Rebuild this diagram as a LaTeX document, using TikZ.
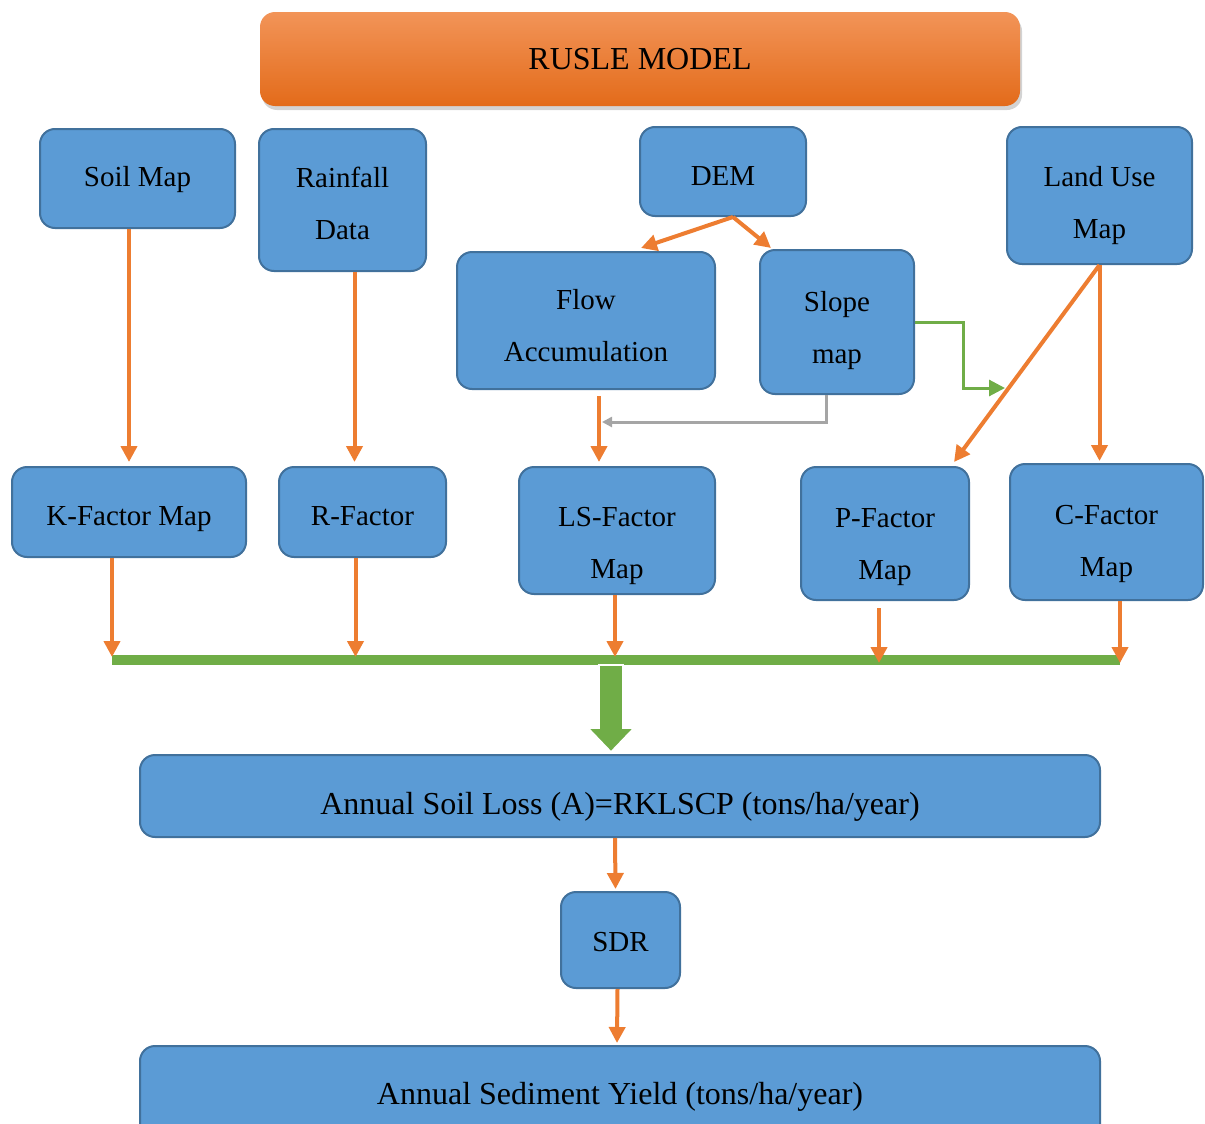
\documentclass[tikz,border=0pt]{standalone}
\usepackage{fontspec}
\setmainfont{Liberation Serif}
\usepackage{tikz}
\usetikzlibrary{positioning,arrows.meta,shadows}

\definecolor{boxblue}{HTML}{5B9BD5}
\definecolor{boxline}{HTML}{41719C}
\definecolor{arrorange}{HTML}{ED7D31}
\definecolor{titletop}{HTML}{F29458}
\definecolor{titlemid}{HTML}{F07D2B}
\definecolor{titlebottom}{HTML}{E36B1A}
\definecolor{bargreen}{HTML}{70AD47}
\definecolor{linegray}{HTML}{A5A5A5}

\begin{document}
\begin{tikzpicture}[x=0.5pt, y=-0.5pt,
	boxnode/.style={rectangle, rounded corners=7.5pt, draw=boxline, fill=boxblue, line width=1pt, align=center, inner sep=0pt, font=\fontsize{14.5}{26}\selectfont},
	widenode/.style={boxnode, minimum width=480pt, font=\fontsize{16}{20}\selectfont},
	titlenode/.style={rectangle, rounded corners=7.5pt, top color=titletop, middle color=titlemid, bottom color=titlebottom, drop shadow={opacity=0.35, shadow xshift=1pt, shadow yshift=-2pt}, minimum width=380pt, minimum height=47pt, font=\fontsize{16}{20}\selectfont},
	orangearrow/.style={draw=arrorange, line width=2pt, -{Triangle[length=8pt,width=8pt]}},
	greenarrow/.style={draw=bargreen, line width=1.5pt, -{Triangle[length=8pt,width=8pt]}},
	grayarrow/.style={draw=linegray, line width=1.5pt, -{Triangle[length=5pt,width=5pt]}},
	]
	\useasboundingbox (0,0) rectangle (1205,1124);
	
	%Nodes
	\node[titlenode] (title) at (640,59) {RUSLE MODEL};
	\node[boxnode, minimum width=97.5pt, minimum height=49.5pt, text height=10.9pt] (soilmap) at (137.5,178.5) {Soil Map};
	\node[boxnode, minimum width=83.5pt, minimum height=71pt, text height=39.2pt] (rainfall) at (342.5,200) {Rainfall\\Data};
	\node[boxnode, minimum width=83pt, minimum height=44.5pt, text height=13.6pt] (dem) at (723,171.5) {DEM};
	\node[boxnode, minimum width=129pt, minimum height=68.5pt, text height=41.2pt] (flowacc) at (586,320.5) {Flow\\Accumulation};
	\node[boxnode, minimum width=77pt, minimum height=72pt, text height=44.2pt] (slope) at (837,322) {Slope\\map};
	\node[boxnode, minimum width=92.5pt, minimum height=68.5pt, text height=46.2pt] (landuse) at (1099.5,195.5) {Land Use\\Map};
	\node[boxnode, minimum width=117pt, minimum height=45pt, text height=16.6pt] (kfactor) at (129,512) {K-Factor Map};
	\node[boxnode, minimum width=83.5pt, minimum height=45pt, text height=13.6pt] (rfactor) at (362.5,512) {R-Factor};
	\node[boxnode, minimum width=98pt, minimum height=63.5pt, text height=51.2pt] (lsfactor) at (617,530.5) {LS-Factor\\Map};
	\node[boxnode, minimum width=84pt, minimum height=66.5pt, text height=49.2pt] (pfactor) at (885,533.5) {P-Factor\\Map};
	\node[boxnode, minimum width=96.5pt, minimum height=68pt, text height=47.2pt] (cfactor) at (1106.5,532) {C-Factor\\Map};
	\node[widenode, minimum height=41pt, text height=22.1pt] (soilloss) at (620,796) {Annual Soil Loss (A)=RKLSCP (tons/ha/year)};
	\node[boxnode, minimum width=59.5pt, minimum height=48pt, text height=11.6pt] (sdr) at (620.5,940) {SDR};
	\node[widenode, minimum height=47pt, text height=15.1pt] (sedyield) at (620,1093) {Annual Sediment Yield (tons/ha/year)};
	
	%Bar
	\coordinate (busleft) at (112,660);
	\coordinate (busright) at (1120,660);
	\draw[bargreen, line width=5pt] (busleft) -- (busright);
	\filldraw[fill=bargreen, draw=white, line width=0.8pt] (599,665) -- (623,665) -- (623,728) -- (634,728) -- (611,752) -- (588,728) -- (599,728) -- cycle;
	
	%Lines
	\draw[orangearrow] (kfactor.north |- soilmap.south) -- ([yshift=2pt]kfactor.north);
	\draw[orangearrow] ([xshift=6pt]rainfall.south) -- ([xshift=-4pt,yshift=2pt]rfactor.north);
	\draw[orangearrow] ([xshift=5pt]dem.south) -- ([xshift=27.5pt,yshift=1.5pt]flowacc.north);
	\draw[orangearrow] ([xshift=5pt]dem.south) -- ([xshift=6pt,yshift=0.5pt]slope.north west);
	\draw[orangearrow] ([xshift=6.5pt,yshift=-3pt]flowacc.south) -- ([xshift=-9pt,yshift=2pt]lsfactor.north);
	\coordinate (lsin) at (602,422);
	\draw[grayarrow] ([xshift=-5.5pt]slope.south) |- (lsin);
	\draw[greenarrow] (slope.east) -- ++(48,0) |- (1005,388);
	\draw[orangearrow] (landuse.south) -- ([xshift=-8pt,yshift=2pt]pfactor.north east);
	\draw[orangearrow] (landuse.south) -- ([yshift=1pt]landuse.south |- cfactor.north);
	\draw[orangearrow] (busleft |- kfactor.south) -- ([yshift=1.5pt]busleft);
	\draw[orangearrow] ([xshift=-3.5pt]rfactor.south) -- ([xshift=-3.5pt,yshift=1.5pt]rfactor.south |- busleft);
	\draw[orangearrow] ([xshift=-1pt]lsfactor.south) -- ([xshift=-1pt,yshift=1.5pt]lsfactor.south |- busleft);
	\draw[orangearrow] ([xshift=-3pt,yshift=-3.5pt]pfactor.south) -- ([xshift=-3pt,yshift=-1.5pt]pfactor.south |- busleft);
	\draw[orangearrow] (busright |- cfactor.south) -- ([yshift=-1.5pt]busright);
	\draw[orangearrow] ([xshift=-2.5pt]soilloss.south) -- ([xshift=-2.5pt,yshift=1pt]sdr.north);
	\draw[orangearrow] ([xshift=-1.5pt]sdr.south) -- ([xshift=-1.5pt,yshift=1pt]sedyield.north);
	
\end{tikzpicture}
\end{document}
